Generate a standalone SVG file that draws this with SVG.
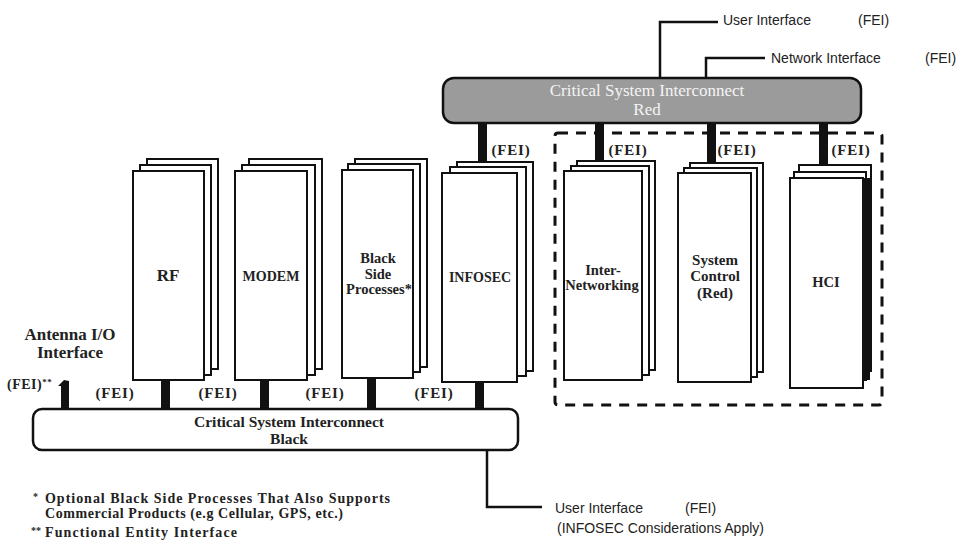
<svg xmlns="http://www.w3.org/2000/svg" width="964" height="541" viewBox="0 0 964 541">
<style>
.bg{fill:#fff}
.card{fill:#fff;stroke:#111;stroke-width:2}
.lbl{font-family:"Liberation Serif",serif;font-weight:bold;font-size:14px;fill:#222;text-anchor:middle}
.lt{font-family:"Liberation Serif",serif;font-weight:bold;font-size:14px;fill:#222;text-anchor:start}
.fei{font-family:"Liberation Serif",serif;font-weight:bold;font-size:15px;letter-spacing:0.8px;fill:#222;text-anchor:middle}
.sans{font-family:"Liberation Sans",Arial,sans-serif;font-size:14px;fill:#222}
.bar{fill:#111}
.line{fill:none;stroke:#111;stroke-width:2.5}
</style>
<rect class="bg" x="0" y="0" width="964" height="541"/>

<g id="connectors">
  <path class="line" d="M660,78 V22 H718"/>
  <path class="line" d="M706,78 V58 H765"/>
  <path class="line" d="M487,450 V507 H542"/>
  <rect class="bar" x="478" y="122" width="9" height="41"/>
  <rect class="bar" x="595" y="122" width="9" height="40"/>
  <rect class="bar" x="707" y="122" width="9" height="42"/>
  <rect class="bar" x="819" y="122" width="9" height="44"/>
  <path class="bar" d="M61,409 V386 L58,386 L64,380 L69,381 V409 Z"/>
  <rect class="bar" x="161" y="380" width="9" height="30"/>
  <rect class="bar" x="260" y="380" width="9" height="30"/>
  <rect class="bar" x="367" y="378" width="9" height="32"/>
  <rect class="bar" x="475" y="382" width="9" height="28"/>
</g>

<g id="red-bus">
  <rect x="443" y="78" width="418" height="45" rx="11" fill="#9b9b9b" stroke="#111" stroke-width="2.5"/>
  <text x="647" y="96" font-family="'Liberation Serif',serif" font-size="17" fill="#f4f4f4" text-anchor="middle">Critical System Interconnect</text>
  <text x="647" y="115" font-family="'Liberation Serif',serif" font-size="17" fill="#f4f4f4" text-anchor="middle">Red</text>
</g>

<g id="black-bus">
  <rect x="33" y="409" width="485" height="41" rx="9" fill="#fff" stroke="#111" stroke-width="2.5"/>
  <text class="lbl" x="289" y="427" style="font-size:15.5px">Critical System Interconnect</text>
  <text class="lbl" x="289" y="444" style="font-size:15.5px">Black</text>
</g>

<g id="rf">
  <rect class="card" x="147" y="159" width="71" height="210"/>
  <rect class="card" x="140" y="165" width="71" height="210"/>
  <rect class="card" x="133" y="171" width="71" height="209"/>
  <text class="lbl" x="168" y="281" style="font-size:17px">RF</text>
</g>

<g id="modem">
  <rect class="card" x="249" y="159" width="73" height="210"/>
  <rect class="card" x="242" y="165" width="73" height="210"/>
  <rect class="card" x="235" y="171" width="72" height="209"/>
  <text class="lbl" x="271" y="281">MODEM</text>
</g>

<g id="black-side">
  <rect class="card" x="355" y="159" width="72" height="208"/>
  <rect class="card" x="348" y="164" width="72" height="208"/>
  <rect class="card" x="342" y="170" width="71" height="208"/>
  <text class="lbl" x="378" y="263" style="font-size:14.5px">Black</text>
  <text class="lbl" x="378" y="279" style="font-size:14.5px">Side</text>
  <text class="lbl" x="379" y="294" style="font-size:14.5px">Processes*</text>
</g>

<g id="infosec">
  <rect class="card" x="457" y="162" width="76" height="209"/>
  <rect class="card" x="450" y="167" width="76" height="209"/>
  <rect class="card" x="442" y="173" width="75" height="209"/>
  <text class="lbl" x="480" y="282">INFOSEC</text>
</g>

<g id="inter-networking">
  <rect class="card" x="577" y="161" width="78" height="209"/>
  <rect class="card" x="571" y="166" width="78" height="209"/>
  <rect class="card" x="564" y="171" width="78" height="209"/>
  <text class="lbl" x="603" y="275" style="font-size:14.5px">Inter-</text>
  <text class="lbl" x="602" y="290" style="font-size:14.5px">Networking</text>
</g>

<g id="system-control">
  <rect class="card" x="690" y="163" width="73" height="209"/>
  <rect class="card" x="684" y="168" width="73" height="209"/>
  <rect class="card" x="678" y="173" width="73" height="209"/>
  <text class="lbl" x="715" y="265" style="font-size:15px">System</text>
  <text class="lbl" x="715" y="281" style="font-size:15px">Control</text>
  <text class="lbl" x="715" y="298" style="font-size:15px">(Red)</text>
</g>

<g id="hci">
  <rect class="card" x="799" y="165" width="72" height="206"/>
  <rect class="card" x="794" y="172" width="72" height="208"/>
  <rect x="863" y="178" width="7" height="202" fill="#111"/>
  <rect class="card" x="790" y="178" width="73" height="210"/>
  <text class="lbl" x="826" y="287" style="font-size:14.5px">HCI</text>
</g>

<g id="red-domain">
  <rect x="555" y="133" width="327" height="272" rx="3" fill="none" stroke="#111" stroke-width="3" stroke-dasharray="10 8"/>
</g>

<g id="fei-labels">
  <text class="fei" x="511" y="155">(FEI)</text>
  <text class="fei" x="628" y="155">(FEI)</text>
  <text class="fei" x="737" y="155">(FEI)</text>
  <text class="fei" x="851" y="155">(FEI)</text>
  <text class="fei" x="115" y="398">(FEI)</text>
  <text class="fei" x="218" y="398">(FEI)</text>
  <text class="fei" x="325" y="398">(FEI)</text>
  <text class="fei" x="434" y="398">(FEI)</text>
  <text class="fei" x="7" y="389" style="text-anchor:start;font-size:14px;letter-spacing:0.5px">(FEI)<tspan font-size="9" dy="-4">**</tspan></text>
</g>

<g id="antenna">
  <text class="lbl" x="70" y="340" style="font-size:17px">Antenna I/O</text>
  <text class="lbl" x="70" y="358" style="font-size:17px">Interface</text>
</g>

<g id="interface-labels">
  <text class="sans" x="723" y="25">User Interface</text>
  <text class="sans" x="858" y="25">(FEI)</text>
  <text class="sans" x="771" y="63">Network Interface</text>
  <text class="sans" x="925" y="63">(FEI)</text>
  <text class="sans" x="555" y="513">User Interface</text>
  <text class="sans" x="685" y="513">(FEI)</text>
  <text class="sans" x="557" y="533">(INFOSEC Considerations Apply)</text>
</g>

<g id="footnotes">
  <text class="lt" x="33" y="500" style="font-size:10px">*</text>
  <text class="lt" x="45" y="503" textLength="345" lengthAdjust="spacing">Optional Black Side Processes That Also Supports</text>
  <text class="lt" x="45" y="518" textLength="298" lengthAdjust="spacing">Commercial Products (e.g Cellular, GPS, etc.)</text>
  <text class="lt" x="31" y="534" style="font-size:10px">**</text>
  <text class="lt" x="45" y="537" textLength="192" lengthAdjust="spacing">Functional Entity Interface</text>
</g>
</svg>
